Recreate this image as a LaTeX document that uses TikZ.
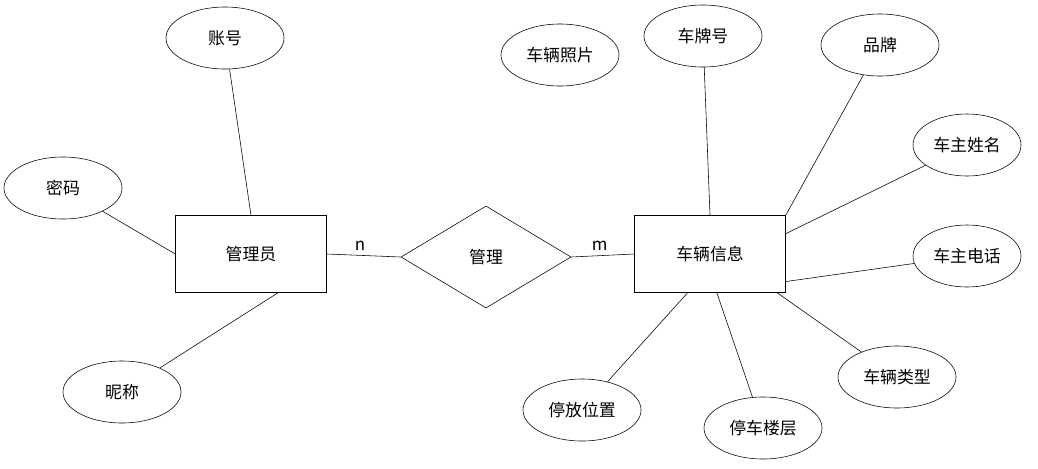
\documentclass[tikz,border=0pt]{standalone}
\usepackage{fontspec}
\setmainfont{Noto Sans CJK SC}
\usetikzlibrary{shapes.geometric}

\begin{document}
\begin{tikzpicture}[x=0.025cm, y=-0.025cm, font=\large,
    attr/.style={ellipse, draw, minimum width=2.95cm, minimum height=1.55cm, inner sep=0pt},
    ent/.style={rectangle, draw, minimum width=3.77cm, minimum height=1.92cm},
    rel/.style={diamond, draw, aspect=1.67, minimum width=4.25cm, minimum height=2.55cm, inner sep=0pt}]
    \useasboundingbox (0,0) rectangle (1038,468);
        % Draw the entities and relation
        \node[ent]  (gly)  at (251,254) {管理员};
        \node[rel]  (gl)   at (486,257) {管理};
        \node[ent]  (clxx) at (710,254) {车辆信息};

        % Draw the attributes
        \node[attr] (zh)   at (225,38)  {账号};
        \node[attr] (mm)   at (63,188)  {密码};
        \node[attr] (nc)   at (122,392) {昵称};
        \node[attr] (clzp) at (560,55)  {车辆照片};
        \node[attr] (cph)  at (703,36)  {车牌号};
        \node[attr] (pp)   at (880,45)  {品牌};
        \node[attr, minimum width=2.7cm] (czxm) at (967,145) {车主姓名};
        \node[attr, minimum width=2.7cm] (czdh) at (967,256) {车主电话};
        \node[attr] (cllx) at (897,377) {车辆类型};
        \node[attr] (tclc) at (763,428) {停车楼层};
        \node[attr] (tfwz) at (582,410) {停放位置};

        % Connect them
        \draw (zh) -- (gly.north);
        \draw (mm) -- (gly.west);
        \draw (nc) -- (gly.-55);
        \draw (gly.east) -- node[above, pos=0.45] {n} (gl.west);
        \draw (gl.east) -- node[above, pos=0.45] {m} (clxx.west);
        \draw (cph) -- (clxx.north);
        \draw (pp) -- (clxx.north east);
        \draw (czxm) -- (clxx.15);
        \draw (czdh) -- (clxx.-20);
        \draw (cllx) -- (clxx.-30);
        \draw (tclc) -- (clxx.-80);
        \draw (tfwz) -- (clxx.-120);
\end{tikzpicture}
\end{document}
